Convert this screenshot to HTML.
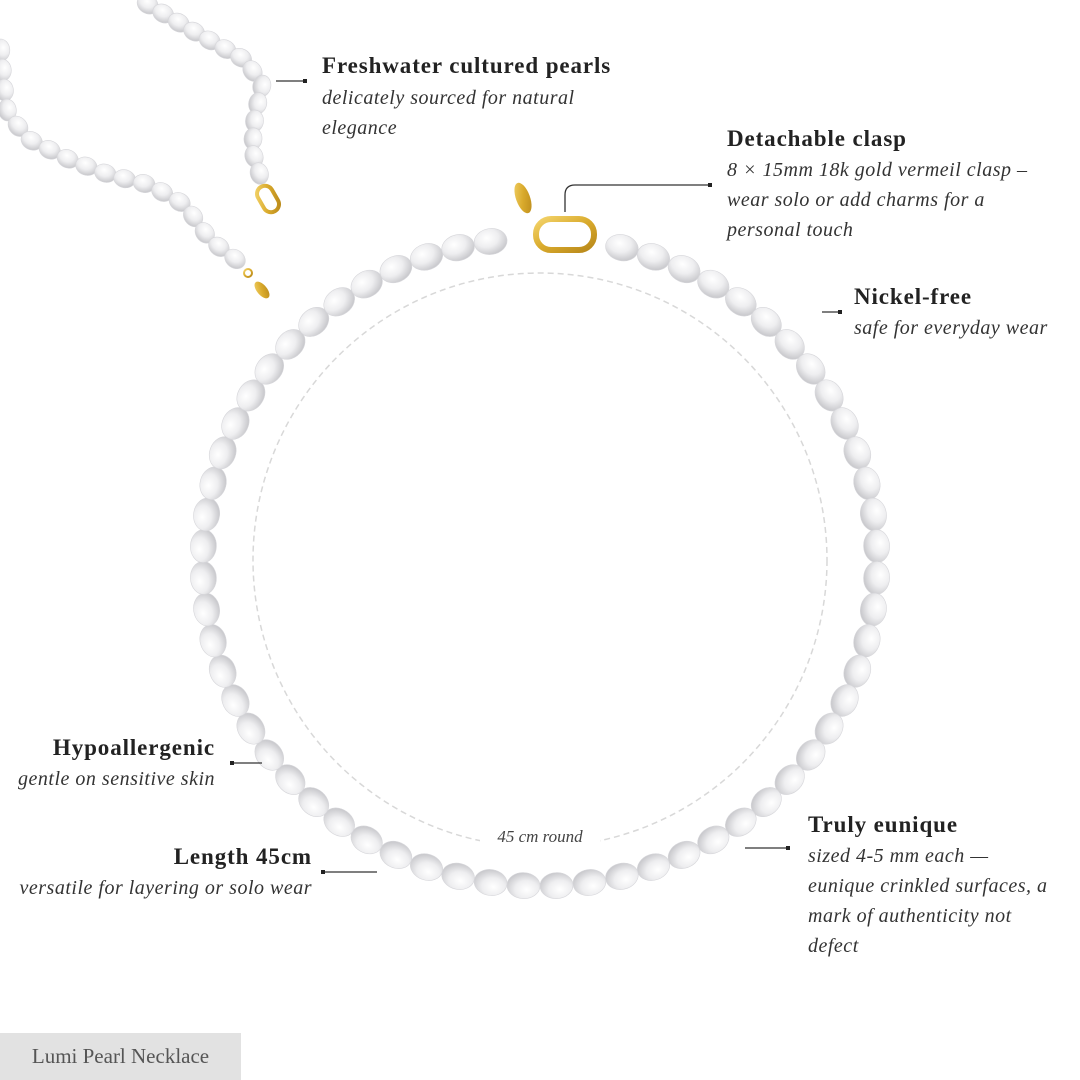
<!DOCTYPE html>
<html><head><meta charset="utf-8"><style>
html,body{margin:0;padding:0;background:#fff;}
#w{position:relative;width:1080px;height:1080px;overflow:hidden;background:#fff;font-family:"Liberation Serif",serif;color:#222;}
.t{position:absolute;white-space:nowrap;}
.h{font-weight:bold;font-size:23px;line-height:30px;letter-spacing:0.9px;}
.i{font-style:italic;font-size:20px;line-height:30px;color:#333;letter-spacing:0.5px;}
.r{text-align:right;}
svg{position:absolute;left:0;top:0;}
</style></head><body><div id="w">
<svg id="s" width="1080" height="1080" viewBox="0 0 1080 1080">
<defs>
<radialGradient id="pg" cx="40%" cy="35%" r="70%">
<stop offset="0" stop-color="#ffffff"/><stop offset="0.5" stop-color="#eeeef0"/><stop offset="1" stop-color="#c4c4c8"/>
</radialGradient>
<linearGradient id="gold" x1="0" y1="0" x2="1" y2="1"><stop offset="0" stop-color="#f3d36a"/><stop offset="0.5" stop-color="#d9aa2c"/><stop offset="1" stop-color="#b8881a"/></linearGradient>
</defs>
<circle cx="540" cy="560" r="287" fill="none" stroke="#d8d8d8" stroke-width="1.5" stroke-dasharray="6 4"/>
<rect x="480" y="825" width="120" height="26" fill="#fff"/>
<g id="pearls"></g>
<ellipse cx="523" cy="198" rx="7" ry="16" transform="rotate(-20 523 198)" fill="url(#gold)"/>
<rect x="536" y="219" width="58" height="31" rx="15" fill="none" stroke="url(#gold)" stroke-width="6"/>
<rect x="260" y="185" width="16" height="28" rx="8" transform="rotate(-30 268 199)" fill="none" stroke="url(#gold)" stroke-width="4"/>
<circle cx="248" cy="273" r="4" fill="none" stroke="url(#gold)" stroke-width="2"/>
<ellipse cx="262" cy="290" rx="5" ry="10" transform="rotate(-40 262 290)" fill="url(#gold)"/>
<g stroke="#333" stroke-width="1.3" fill="none">
<line x1="276" y1="81" x2="305" y2="81"/>
<path d="M565 212 V195 Q565 185 575 185 H710"/>
<line x1="822" y1="312" x2="840" y2="312"/>
<line x1="232" y1="763" x2="262" y2="763"/>
<line x1="323" y1="872" x2="377" y2="872"/>
<line x1="745" y1="848" x2="788" y2="848"/>
</g>
<g fill="#222">
<rect x="303" y="79" width="4" height="4"/><rect x="708" y="183" width="4" height="4"/>
<rect x="838" y="310" width="4" height="4"/><rect x="230" y="761" width="4" height="4"/>
<rect x="321" y="870" width="4" height="4"/><rect x="786" y="846" width="4" height="4"/>
</g>
</svg>
<div class="t h" style="left:322px;top:51px">Freshwater cultured pearls</div>
<div class="t i" style="left:322px;top:83px">delicately sourced for natural<br>elegance</div>
<div class="t h" style="left:727px;top:124px">Detachable clasp</div>
<div class="t i" style="left:727px;top:155px">8 × 15mm 18k gold vermeil clasp –<br>wear solo or add charms for a<br>personal touch</div>
<div class="t h" style="left:854px;top:282px">Nickel-free</div>
<div class="t i" style="left:854px;top:313px">safe for everyday wear</div>
<div class="t h r" style="right:865px;top:733px">Hypoallergenic</div>
<div class="t i r" style="right:865px;top:764px">gentle on sensitive skin</div>
<div class="t h r" style="right:768px;top:842px">Length 45cm</div>
<div class="t i r" style="right:768px;top:873px">versatile for layering or solo wear</div>
<div class="t h" style="left:808px;top:810px">Truly eunique</div>
<div class="t i" style="left:808px;top:841px">sized 4-5 mm each —<br>eunique crinkled surfaces, a<br>mark of authenticity not<br>defect</div>
<div class="t" style="left:0;width:1080px;text-align:center;top:827px;font-style:italic;font-size:17px;color:#444;">45 cm round</div>
<div class="t" style="left:0;top:1033px;width:241px;height:47px;background:#e2e2e2;color:#555;font-size:21px;line-height:47px;text-align:center;">Lumi Pearl Necklace</div>
<script>
var g=document.getElementById('pearls'),h='';
function p(x,y,a,w,hh){h+='<ellipse cx="'+x.toFixed(1)+'" cy="'+y.toFixed(1)+'" rx="'+w+'" ry="'+hh+'" transform="rotate('+a.toFixed(1)+' '+x.toFixed(1)+' '+y.toFixed(1)+')" fill="url(#pg)" stroke="#d6d6da" stroke-width="0.6"/>';}
var cx=540,cy=562,rx=337,ry=324,N=64;
for(var k=0;k<N;k++){var t=-Math.PI/2+ (k+0.5)/N*2*Math.PI;var x=cx+rx*Math.cos(t),y=cy+ry*Math.sin(t);
 if(x>505&&x<612&&y<300)continue;
 var a=Math.atan2(ry*Math.cos(t),-rx*Math.sin(t))*180/Math.PI;p(x,y,a,16.5,13);}
function strand(pts,n,w,hh){var L=[0];for(var i=1;i<pts.length;i++)L.push(L[i-1]+Math.hypot(pts[i][0]-pts[i-1][0],pts[i][1]-pts[i-1][1]));var T=L[L.length-1];
 for(var k=0;k<n;k++){var d=(k+0.5)/n*T,i=1;while(L[i]<d)i++;var f=(d-L[i-1])/(L[i]-L[i-1]);var x=pts[i-1][0]+f*(pts[i][0]-pts[i-1][0]),y=pts[i-1][1]+f*(pts[i][1]-pts[i-1][1]);var a=Math.atan2(pts[i][1]-pts[i-1][1],pts[i][0]-pts[i-1][0])*180/Math.PI;p(x,y,a,w,hh);}}
strand([[140,0],[200,35],[245,60],[262,85],[255,115],[252,150],[262,182]],14,11,9);
strand([[0,40],[3,80],[8,115],[30,140],[70,160],[110,175],[150,185],[185,205],[210,240],[243,265]],18,11,9);
g.innerHTML=h;
</script>
</div></body></html>
